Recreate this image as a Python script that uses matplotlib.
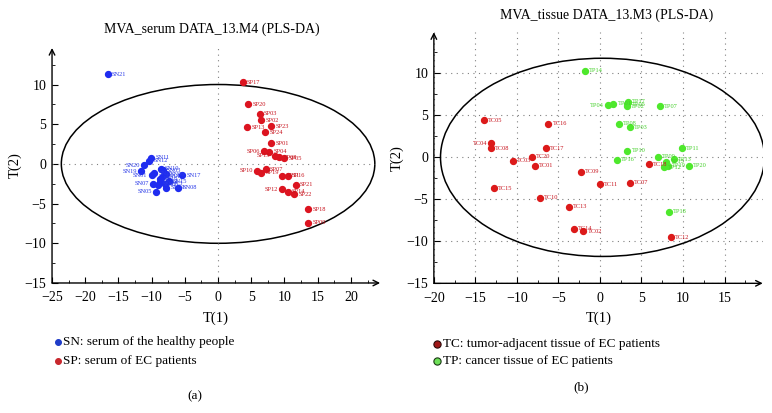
import matplotlib
matplotlib.use("Agg")
import matplotlib.pyplot as plt
from matplotlib.patches import Ellipse
from matplotlib.lines import Line2D
from matplotlib.ticker import MultipleLocator

plt.rcParams['font.family'] = ['Liberation Serif', 'DejaVu Serif']
plt.rcParams['axes.unicode_minus'] = True

# ---- panel (a): serum ----
sn_names = ['SN01', 'SN02', 'SN03', 'SN04', 'SN05', 'SN06', 'SN07', 'SN08', 'SN09', 'SN10',
            'SN11', 'SN12', 'SN13', 'SN14', 'SN15', 'SN16', 'SN17', 'SN18', 'SN19', 'SN20', 'SN21']
sn_x = [-10.0, -9.0, -8.3, -8.8, -9.3, -7.8, -9.8, -6.0, -7.8, -8.6,
        -10.1, -10.4, -8.0, -8.5, -7.4, -9.6, -5.4, -8.8, -11.6, -11.2, -16.6]
sn_y = [-1.4, -2.6, -0.8, -2.3, -3.5, -1.3, -2.5, -3.0, -3.0, -0.6,
        0.8, 0.4, -2.5, -1.6, -2.2, -1.2, -1.4, -1.9, -0.9, -0.2, 11.3]

sp_names = ['SP01', 'SP02', 'SP03', 'SP04', 'SP05', 'SP06', 'SP07', 'SP08', 'SP09', 'SP10',
            'SP11', 'SP12', 'SP13', 'SP14', 'SP15', 'SP16', 'SP17', 'SP18', 'SP19', 'SP20',
            'SP21', 'SP22', 'SP23', 'SP24']
sp_x = [8.0, 6.5, 6.3, 7.7, 10.0, 6.9, 7.2, 9.2, 13.6, 5.9,
        9.7, 9.7, 4.4, 10.5, 8.5, 10.5, 3.7, 13.6, 6.5, 4.5,
        11.7, 11.5, 8.0, 7.1]
sp_y = [2.6, 5.5, 6.3, 1.5, 0.7, 1.6, -0.7, 0.85, -7.4, -0.85,
        -1.5, -3.2, 4.6, -3.5, 1.0, -1.5, 10.3, -5.7, -1.1, 7.5,
        -2.6, -3.8, 4.75, 4.0]

# ---- panel (b): tissue ----
tc_names = ['TC01', 'TC02', 'TC03', 'TC04', 'TC05', 'TC07', 'TC08', 'TC09', 'TC10', 'TC11',
            'TC12', 'TC13', 'TC14', 'TC15', 'TC16', 'TC17', 'TC18', 'TC20']
tc_x = [-7.8, -2.0, -10.5, -13.1, -14.0, 3.6, -13.1, -2.3, -7.2, 0.0,
        8.5, -3.7, -3.1, -12.8, -6.2, -6.5, 5.9, -8.2]
tc_y = [-1.0, -8.8, -0.4, 1.7, 4.4, -3.0, 1.1, -1.7, -4.8, -3.2,
        -9.5, -5.9, -8.5, -3.7, 4.0, 1.1, -0.8, 0.07]

tp_names = ['TP01', 'TP02', 'TP03', 'TP04', 'TP05', 'TP07', 'TP08', 'TP09', 'TP10', 'TP11',
            'TP12', 'TP13', 'TP14', 'TP15', 'TP16', 'TP17', 'TP18', 'TP19', 'TP20']
tp_x = [1.6, 3.2, 3.6, 1.0, 3.3, 7.2, 2.3, 7.0, 3.3, 9.9,
        7.7, 8.9, -1.8, 8.0, 2.0, 3.4, 8.3, 8.2, 10.7]
tp_y = [6.4, 6.1, 3.6, 6.2, 6.35, 6.1, 4.0, 0.07, 0.8, 1.1,
        -1.2, -0.2, 10.3, -0.5, -0.3, 6.6, -6.5, -1.0, -1.0]

left_labels = {'SN01', 'SN05', 'SN07', 'SN19', 'SN20', 'SP06', 'SP10', 'SP12', 'SP15',
               'TC04', 'TP04'}


def label_points(ax, names, xs, ys, color):
    for n, x, y in zip(names, xs, ys):
        if n in left_labels:
            ax.annotate(n, (x, y), xytext=(-3, 0), textcoords='offset points',
                        ha='right', va='center', fontsize=4.6, color=color)
        else:
            ax.annotate(n, (x, y), xytext=(3, 0), textcoords='offset points',
                        ha='left', va='center', fontsize=4.6, color=color)


def style_axes(ax, xlim, ylim):
    ax.set_xlim(*xlim)
    ax.set_ylim(*ylim)
    for s in ['top', 'right', 'left', 'bottom']:
        ax.spines[s].set_visible(False)
    ax.annotate('', xy=(1.0, 0), xytext=(0, 0), xycoords='axes fraction',
                arrowprops=dict(arrowstyle='->', lw=1.0, color='black',
                                shrinkA=0, shrinkB=0))
    ax.annotate('', xy=(0, 1.0), xytext=(0, 0), xycoords='axes fraction',
                arrowprops=dict(arrowstyle='->', lw=1.0, color='black',
                                shrinkA=0, shrinkB=0))
    ax.xaxis.set_major_locator(MultipleLocator(5))
    ax.yaxis.set_major_locator(MultipleLocator(5))
    ax.xaxis.set_minor_locator(MultipleLocator(2.5))
    ax.yaxis.set_minor_locator(MultipleLocator(2.5))
    ax.tick_params(which='major', direction='in', length=4, width=0.8, labelsize=10)
    ax.tick_params(axis='x', which='major', pad=6)
    ax.tick_params(axis='y', which='major', pad=4)
    ax.tick_params(which='minor', direction='in', length=2, width=0.6)
    ax.set_xlabel('T(1)', fontsize=10.5, labelpad=5)
    ax.set_ylabel('T(2)', fontsize=10.5, labelpad=2)


fig = plt.figure(figsize=(7.72, 4.13), dpi=100)

# (a)
ax1 = fig.add_axes([0.0674, 0.3148, 0.425, 0.569])
style_axes(ax1, (-25, 24.4), (-15, 14.6))
ax1.set_xticks(range(-25, 21, 5))
ax1.set_yticks(range(-15, 11, 5))
ax1.axhline(0, color='grey', lw=0.8, ls=(0, (1, 4)))
ax1.axvline(0, color='grey', lw=0.8, ls=(0, (1, 4)))
ax1.add_patch(Ellipse((0, 0), 2 * 23.6, 2 * 10.0, fill=False, lw=1.1, color='black'))
ax1.scatter(sn_x, sn_y, s=18, color='#1f2cf0', zorder=3)
ax1.scatter(sp_x, sp_y, s=18, color='#dc1420', zorder=3)
label_points(ax1, sn_names, sn_x, sn_y, '#2a3ae8')
label_points(ax1, sp_names, sp_x, sp_y, '#c8141e')
fig.text(0.275, 0.93, 'MVA_serum DATA_13.M4 (PLS-DA)', ha='center', va='center', fontsize=10)

# (b)
ax2 = fig.add_axes([0.562, 0.314, 0.426, 0.608])
style_axes(ax2, (-20, 19.6), (-15, 14.9))
ax2.set_xticks(range(-20, 16, 5))
ax2.set_yticks(range(-15, 11, 5))
ax2.grid(True, which='major', color='grey', lw=0.8, ls=(0, (1, 4)))
ax2.set_axisbelow(True)
ax2.add_patch(Ellipse((0.3, 0), 2 * 19.5, 2 * 11.8, fill=False, lw=1.1, color='black'))
ax2.scatter(tc_x, tc_y, s=18, color='#dc1a1a', zorder=3)
ax2.scatter(tp_x, tp_y, s=18, color='#4ee82c', zorder=3)
label_points(ax2, tc_names, tc_x, tc_y, '#c8141e')
label_points(ax2, tp_names, tp_x, tp_y, '#44d02a')
fig.text(0.786, 0.964, 'MVA_tissue DATA_13.M3 (PLS-DA)', ha='center', va='center', fontsize=10)


# legends
def legend_dot(x, y, face, edge, size):
    fig.add_artist(Line2D([x], [y], transform=fig.transFigure, marker='o', ls='none',
                          markersize=size, markerfacecolor=face, markeredgecolor=edge,
                          markeredgewidth=0.8))


legend_dot(0.0745, 1 - 341.7 / 413, '#1f3cc8', '#1f3cc8', 4.2)
fig.text(0.081, 1 - 341.7 / 413, 'SN: serum of the healthy people', fontsize=9.5, va='center')
legend_dot(0.0745, 1 - 361 / 413, '#c8282d', '#c8282d', 4.2)
fig.text(0.081, 1 - 361 / 413, 'SP: serum of EC patients', fontsize=9.5, va='center')
fig.text(0.253, 1 - 396.7 / 413, '(a)', fontsize=9.5, ha='center', va='center')

legend_dot(0.5665, 1 - 344 / 413, '#a01818', '#2a0a0a', 5.2)
fig.text(0.574, 1 - 344 / 413, 'TC: tumor-adjacent tissue of EC patients', fontsize=9.5, va='center')
legend_dot(0.5665, 1 - 361 / 413, '#6ee058', '#1a3a14', 5.2)
fig.text(0.574, 1 - 361 / 413, 'TP: cancer tissue of EC patients', fontsize=9.5, va='center')
fig.text(0.753, 1 - 387.7 / 413, '(b)', fontsize=9.5, ha='center', va='center')

fig.savefig('out.png', dpi=100)
